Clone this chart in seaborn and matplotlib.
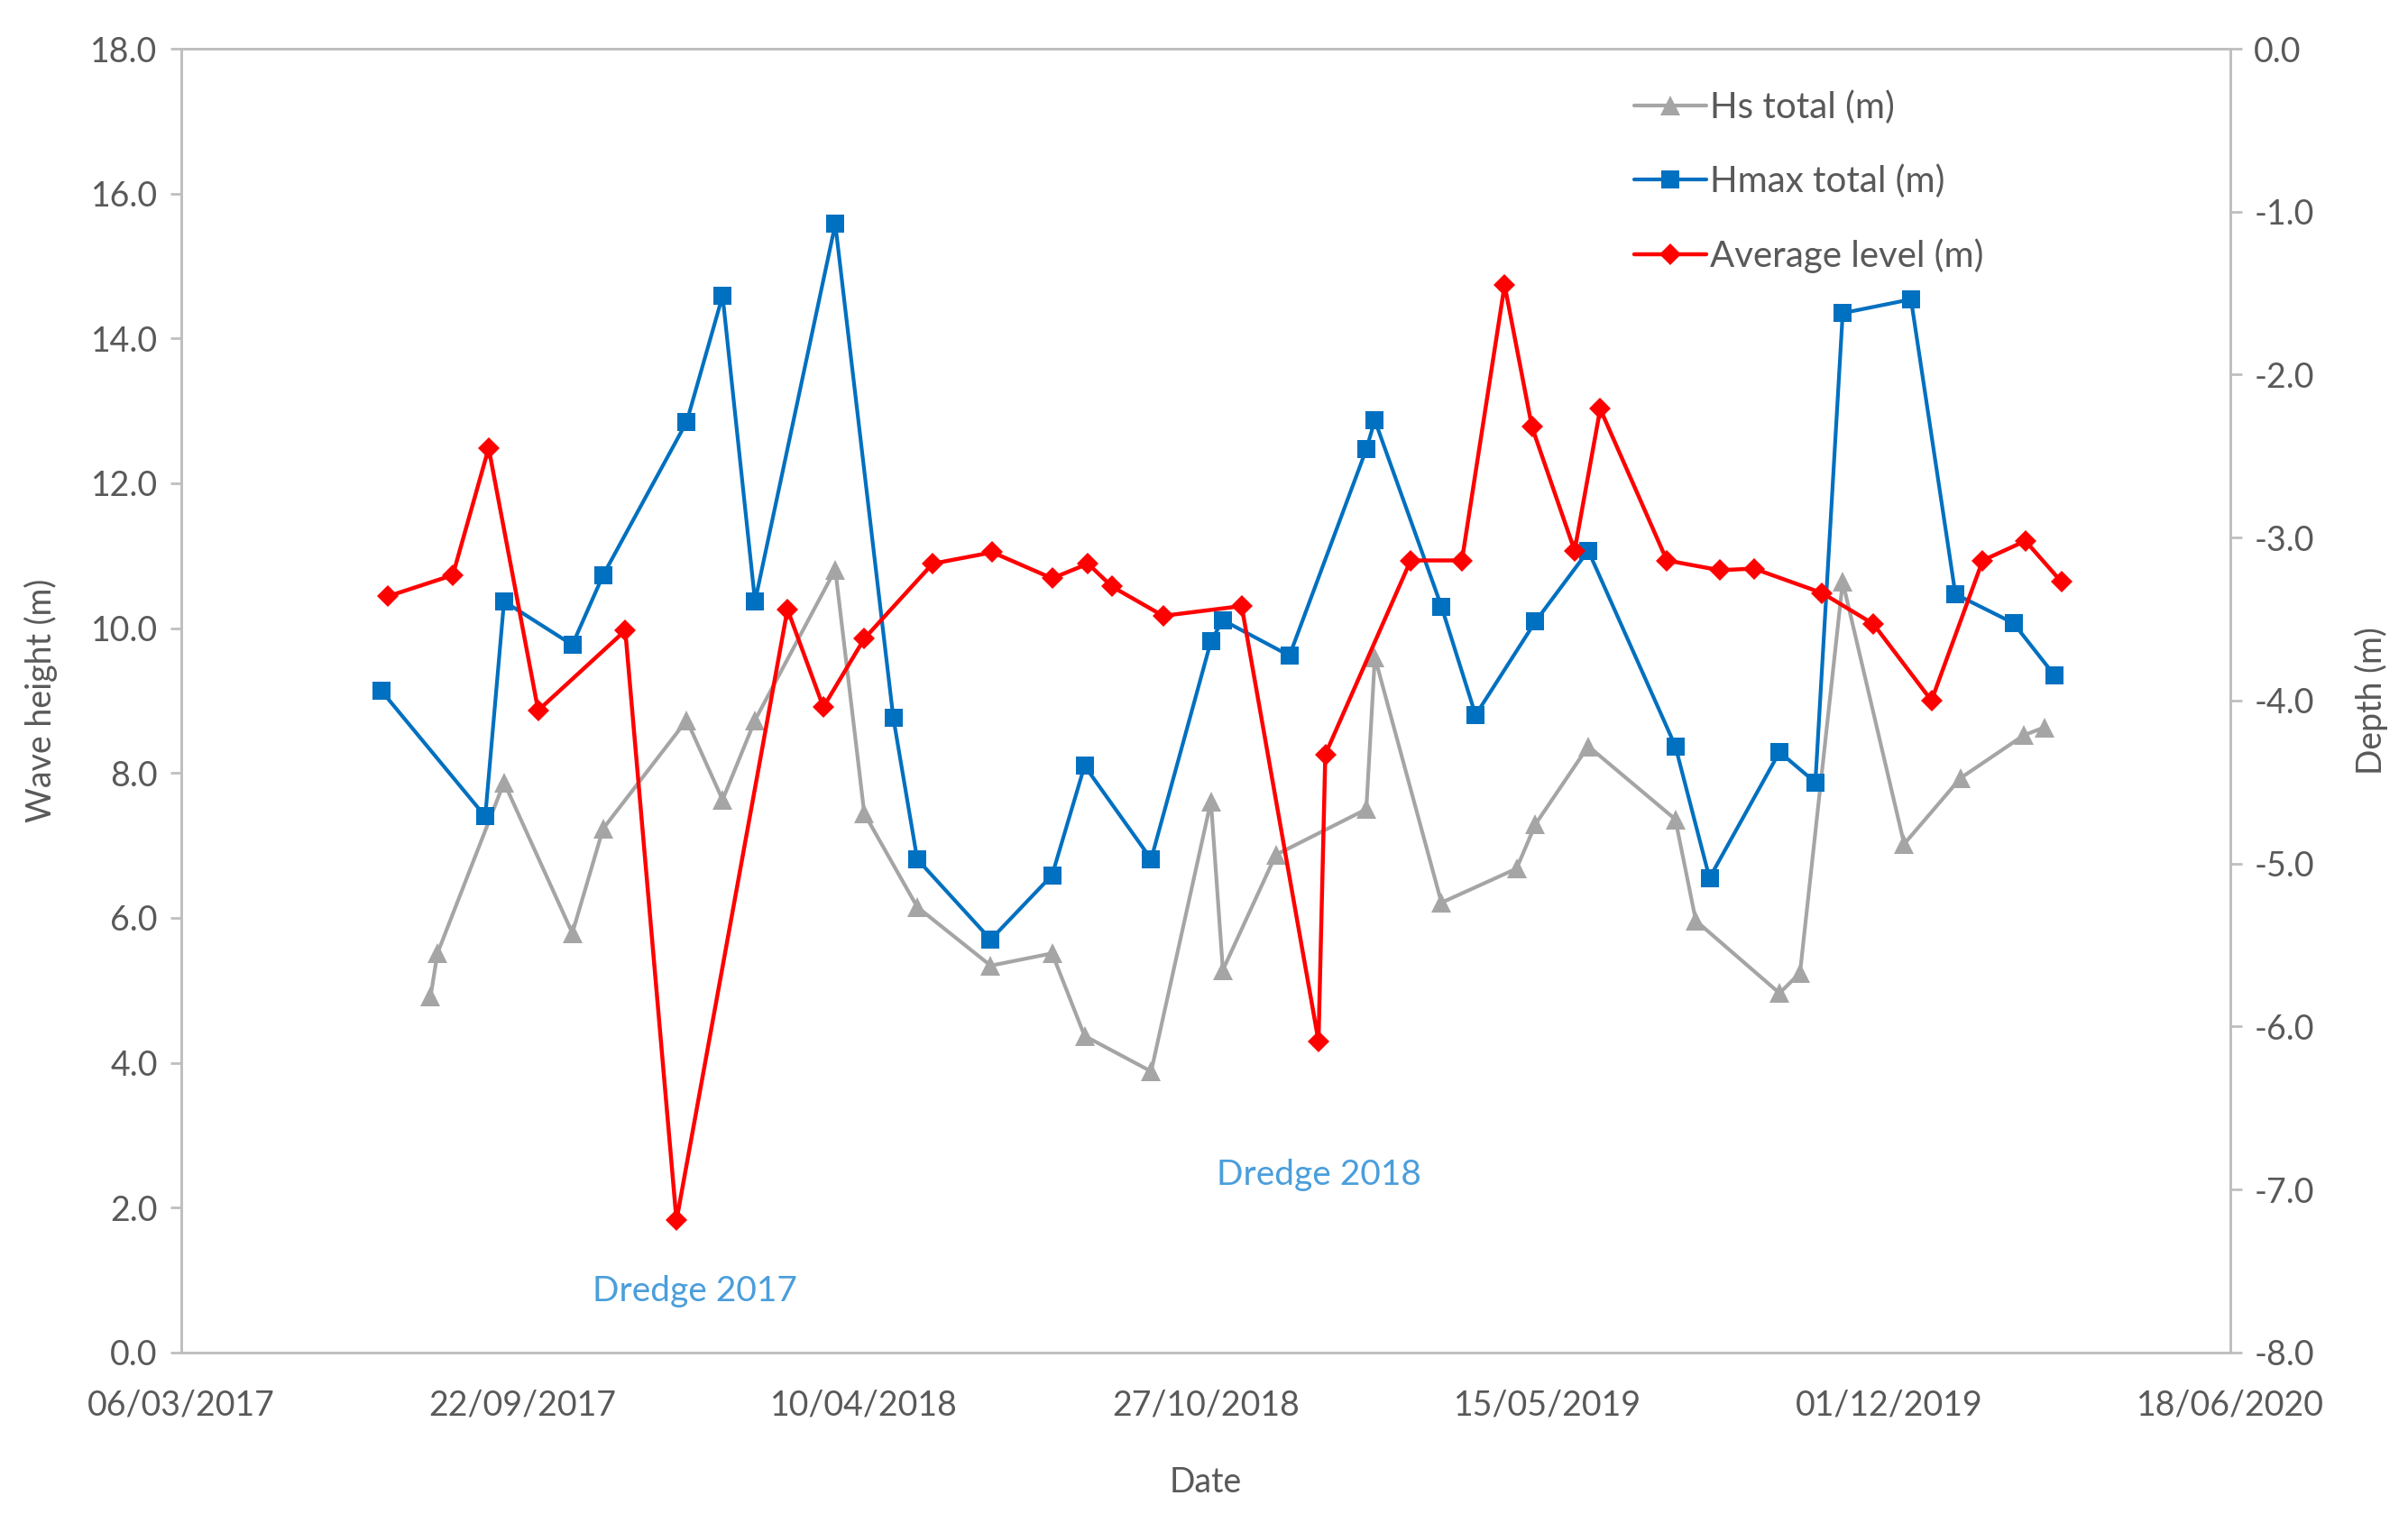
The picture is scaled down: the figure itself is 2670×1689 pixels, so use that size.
import pandas as pd
import matplotlib
matplotlib.use("Agg")
import matplotlib.pyplot as plt
import matplotlib.dates as mdates
from matplotlib.lines import Line2D
import seaborn as sns

# Hs total (m)
hs_dates = ["2017-07-30", "2017-08-03", "2017-09-11", "2017-10-21", "2017-11-08",
            "2017-12-27", "2018-01-17", "2018-02-05", "2018-03-24", "2018-04-10",
            "2018-05-11", "2018-06-23", "2018-07-29", "2018-08-17", "2018-09-25",
            "2018-10-30", "2018-11-06", "2018-12-07", "2019-01-29", "2019-02-03",
            "2019-03-14", "2019-04-27", "2019-05-08", "2019-06-08", "2019-07-29",
            "2019-08-10", "2019-09-28", "2019-10-10", "2019-11-04", "2019-12-10",
            "2020-01-12", "2020-02-18", "2020-03-01"]
hs_values = [4.92, 5.51, 7.87, 5.79, 7.23, 8.73, 7.63, 8.73, 10.81, 7.44,
             6.15, 5.34, 5.51, 4.37, 3.88, 7.61, 5.28, 6.87, 7.50, 9.60,
             6.21, 6.68, 7.29, 8.37, 7.36, 5.96, 4.96, 5.24, 10.64, 7.02,
             7.93, 8.52, 8.63]

# Hmax total (m)
hmax_dates = ["2017-07-01", "2017-08-31", "2017-09-11", "2017-10-21", "2017-11-08",
              "2017-12-27", "2018-01-17", "2018-02-05", "2018-03-24", "2018-04-27",
              "2018-05-11", "2018-06-23", "2018-07-29", "2018-08-17", "2018-09-25",
              "2018-10-30", "2018-11-06", "2018-12-15", "2019-01-29", "2019-02-03",
              "2019-03-14", "2019-04-03", "2019-05-08", "2019-06-08", "2019-07-29",
              "2019-08-18", "2019-09-28", "2019-10-19", "2019-11-04", "2019-12-14",
              "2020-01-09", "2020-02-12", "2020-03-07"]
hmax_values = [9.14, 7.40, 10.37, 9.77, 10.73, 12.85, 14.59, 10.37, 15.58, 8.76,
               6.81, 5.70, 6.59, 8.10, 6.81, 9.82, 10.11, 9.62, 12.47, 12.87,
               10.30, 8.80, 10.09, 11.07, 8.37, 6.55, 8.29, 7.87, 14.35, 14.54,
               10.47, 10.07, 9.35]

# Average level (m), right axis
level_dates = ["2017-07-05", "2017-08-12", "2017-09-02", "2017-10-01", "2017-11-21",
               "2017-12-21", "2018-02-24", "2018-03-17", "2018-04-10", "2018-05-20",
               "2018-06-24", "2018-07-29", "2018-08-19", "2018-09-02", "2018-10-02",
               "2018-11-17", "2019-01-01", "2019-01-05", "2019-02-24", "2019-03-26",
               "2019-04-20", "2019-05-06", "2019-05-31", "2019-06-15", "2019-07-24",
               "2019-08-24", "2019-09-13", "2019-10-23", "2019-11-22", "2019-12-26",
               "2020-01-25", "2020-02-19", "2020-03-11"]
level_values = [-3.36, -3.23, -2.45, -4.06, -3.57, -7.19, -3.44, -4.04, -3.62, -3.16,
                -3.09, -3.25, -3.16, -3.30, -3.48, -3.42, -6.09, -4.33, -3.14, -3.14,
                -1.45, -2.32, -3.08, -2.21, -3.14, -3.20, -3.19, -3.34, -3.53, -4.00,
                -3.14, -3.02, -3.27]

x_ticks = ["2017-03-06", "2017-09-22", "2018-04-10", "2018-10-27",
           "2019-05-15", "2019-12-01", "2020-06-18"]

hs_df = pd.DataFrame({"date": pd.to_datetime(hs_dates), "value": hs_values})
hmax_df = pd.DataFrame({"date": pd.to_datetime(hmax_dates), "value": hmax_values})
level_df = pd.DataFrame({"date": pd.to_datetime(level_dates), "value": level_values})

sns.set_style("white")
plt.rcParams["font.family"] = ["Lato", "DejaVu Sans"]

text_color = "#595959"
spine_color = "#BFBFBF"
c_hs = "#A5A5A5"
c_hmax = "#0070C0"
c_level = "#FF0000"

hs_style = dict(color=c_hs, marker="^", markersize=16, markeredgewidth=0, linewidth=3)
hmax_style = dict(color=c_hmax, marker="s", markersize=15, markeredgewidth=0, linewidth=3)
level_style = dict(color=c_level, marker="D", markersize=12, markeredgewidth=0, linewidth=3.2)

fig = plt.figure(figsize=(26.7, 16.89), dpi=100)
ax = fig.add_axes([0.0753, 0.112, 0.8509, 0.856])
ax2 = ax.twinx()

sns.lineplot(data=hs_df, x="date", y="value", ax=ax, **hs_style)
sns.lineplot(data=hmax_df, x="date", y="value", ax=ax, **hmax_style)
sns.lineplot(data=level_df, x="date", y="value", ax=ax2, **level_style)

ax.set_xlim(pd.Timestamp(x_ticks[0]), pd.Timestamp(x_ticks[-1]))
ax.set_xticks(pd.to_datetime(x_ticks))
ax.xaxis.set_major_formatter(mdates.DateFormatter("%d/%m/%Y"))
ax.set_ylim(0, 18)
ax.set_yticks(range(0, 19, 2))
ax.yaxis.set_major_formatter(matplotlib.ticker.FormatStrFormatter("%.1f"))
ax2.set_ylim(-8, 0)
ax2.set_yticks(range(-8, 1))
ax2.yaxis.set_major_formatter(matplotlib.ticker.FormatStrFormatter("%.1f"))

for a in (ax, ax2):
    for s in a.spines.values():
        s.set_color(spine_color)
        s.set_linewidth(2)
    a.tick_params(colors=text_color, labelsize=27, length=9, width=2,
                  color=spine_color, direction="out")
ax.tick_params(axis="x", pad=20)
ax.tick_params(axis="y", pad=10)
ax2.tick_params(axis="y", pad=10)

ax.set_xlabel("Date", fontsize=27, color=text_color, labelpad=36)
ax.set_ylabel("Wave height (m)", fontsize=27, color=text_color, labelpad=26)
ax2.set_ylabel("Depth (m)", fontsize=27, color=text_color, labelpad=32)

ax.text(pd.Timestamp("2018-01-01"), 0.85, "Dredge 2017", fontsize=28,
        color="#4A9EDB", ha="center", va="center")
ax.text(pd.Timestamp("2019-01-01"), 2.45, "Dredge 2018", fontsize=28,
        color="#4A9EDB", ha="center", va="center")

handles = [Line2D([], [], **hs_style), Line2D([], [], **hmax_style),
           Line2D([], [], **level_style)]
labels = ["Hs total (m)", "Hmax total (m)", "Average level (m)"]
ax2.legend(handles, labels, loc="upper left", bbox_to_anchor=(0.693, 0.993),
           frameon=False, fontsize=29, handlelength=2.0, handletextpad=0.1,
           labelspacing=1.1, labelcolor=text_color)

fig.savefig("out.png", dpi=100)
